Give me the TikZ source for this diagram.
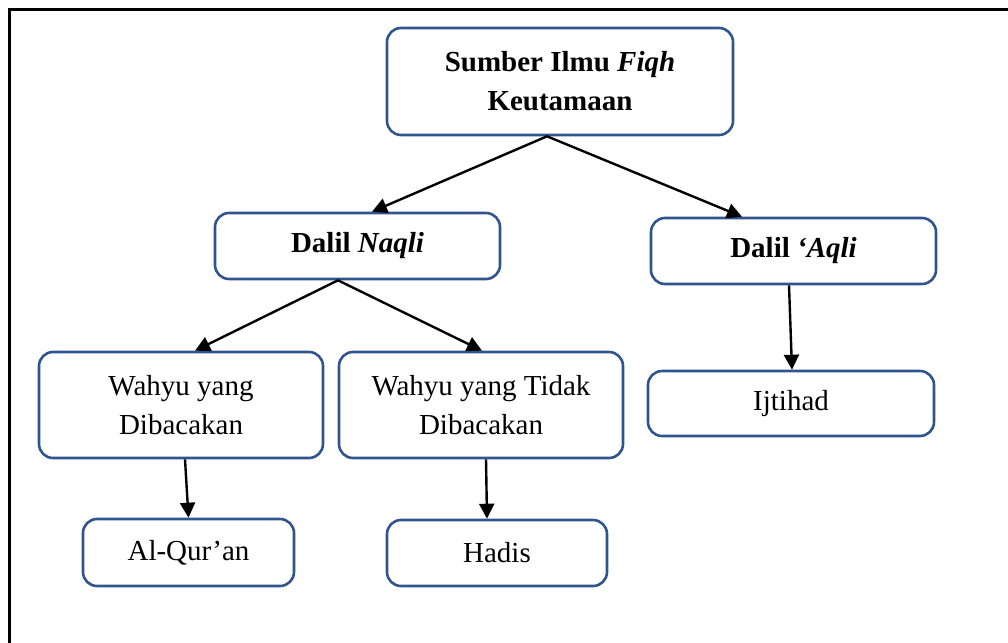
\documentclass[tikz,border=0pt]{standalone}
\usepackage{fontspec}
\setmainfont{Liberation Serif}
\usetikzlibrary{arrows.meta}
\definecolor{boxblue}{RGB}{47,84,143}
\tikzset{
  box/.style={draw=boxblue, line width=2.6pt, rounded corners=14pt, align=center,
    inner sep=0pt, font=\fontsize{29}{39}\selectfont},
  conn/.style={draw=black, line width=2.4pt, -{Triangle[length=15pt,width=15pt]}},
}
\begin{document}
\begin{tikzpicture}[x=1pt,y=-1pt]
\useasboundingbox (0,0) rectangle (1008,642);
\draw[line width=3pt] (9,10) rectangle (1020,660);
\node[box, minimum width=346pt, minimum height=107pt] (top) at (560,81.5)
  {\textbf{Sumber Ilmu \textit{Fiqh}}\\\textbf{Keutamaan}};
\node[box, minimum width=285pt, minimum height=66pt] (naqli) at (357.5,246)
  {\textbf{Dalil \textit{Naqli}}};
\node[box, minimum width=285pt, minimum height=66pt] (aqli) at (793.5,251)
  {\textbf{Dalil \textit{‘Aqli}}};
\node[box, minimum width=286pt, minimum height=65pt] (ijtihad) at (791,403.5)
  {Ijtihad};
\node[box, minimum width=284pt, minimum height=106pt] (w1) at (181,405)
  {Wahyu yang\\Dibacakan};
\node[box, minimum width=284pt, minimum height=106pt] (w2) at (481,405)
  {Wahyu yang Tidak\\Dibacakan};
\node[box, minimum width=211pt, minimum height=67pt] (quran) at (188.5,552.5)
  {Al-Qur’an};
\node[box, minimum width=220pt, minimum height=66pt] (hadis) at (497,553)
  {Hadis};
\draw[conn] ([xshift=-13pt]top.south) -- ([xshift=14.5pt]naqli.north);
\draw[conn] ([xshift=-13pt]top.south) -- ([xshift=-51.5pt]aqli.north);
\draw[conn] ([xshift=-19.5pt]naqli.south) -- ([xshift=14pt]w1.north);
\draw[conn] ([xshift=-19.5pt]naqli.south) -- ([xshift=1pt]w2.north);
\draw[conn] ([xshift=-4.5pt]aqli.south) -- ([xshift=1pt]ijtihad.north);
\draw[conn] ([xshift=4pt]w1.south) -- (quran.north);
\draw[conn] ([xshift=5pt]w2.south) -- ([xshift=-10pt]hadis.north);
\end{tikzpicture}
\end{document}
